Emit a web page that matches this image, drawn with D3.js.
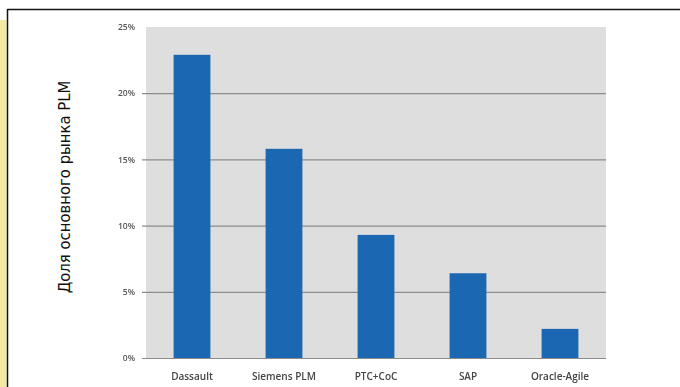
<!DOCTYPE html>
<html><head><meta charset="utf-8">
<script src="https://cdn.jsdelivr.net/npm/d3@7"></script>
<style>html,body{margin:0;padding:0;background:#fff;overflow:hidden}</style>
</head><body>
<svg id="c" width="680" height="387"></svg>
<script>
const categories = ["Dassault", "Siemens PLM", "PTC+CoC", "SAP", "Oracle-Agile"];
const values = [22.9, 15.8, 9.3, 6.4, 2.2];
const yTicks = [0, 5, 10, 15, 20, 25];
const yTitle = "Доля основного рынка PLM";

const svg = d3.select("#c");
const defs = svg.append("defs");
defs.append("filter").attr("id","soft").append("feGaussianBlur").attr("stdDeviation",0.4);

// frame decorations
svg.append("rect").attr("x",0).attr("y",20).attr("width",6.5).attr("height",367).attr("fill","#f2e9a2");
svg.append("line").attr("x1",7.5).attr("x2",680).attr("y1",9.5).attr("y2",9.5).attr("stroke","#111").attr("stroke-width",1.5);
svg.append("line").attr("x1",7.5).attr("x2",7.5).attr("y1",9).attr("y2",387).attr("stroke","#111").attr("stroke-width",1.5);

const L = 146, R = 606, T = 27, B = 358;
const x = d3.scaleBand().domain(categories).range([L, R]).paddingInner(0.6).paddingOuter(0.3);
const y = d3.scaleLinear().domain([0, 25]).range([B, T]);

svg.append("rect").attr("x",L).attr("y",T).attr("width",R-L).attr("height",B-T).attr("fill","#dedede");

const yAxis = d3.axisLeft(y).tickValues(yTicks).tickFormat(d => d + "%").tickSize(-(R-L)).tickPadding(11);
const gy = svg.append("g").attr("transform",`translate(${L},0)`).call(yAxis);
gy.select(".domain").remove();
gy.selectAll(".tick line").attr("stroke", d => d === 25 ? "none" : "#8c8c8c").attr("stroke-width",1.2).attr("x1",-4);
gy.selectAll(".tick text").attr("fill","#555").style("font-family","Open Sans, Liberation Sans, sans-serif").style("font-size","8.5px").style("font-weight","600").attr("filter","url(#soft)");

svg.append("g").selectAll("rect").data(values).join("rect")
  .attr("x",(d,i)=>x(categories[i])).attr("width",x.bandwidth())
  .attr("y",d=>y(d)).attr("height",d=>y(0)-y(d)).attr("fill","#1b67b2");

const xAxis = d3.axisBottom(x).tickSize(0).tickPadding(15);
const gx = svg.append("g").attr("transform",`translate(0,${B})`).call(xAxis);
gx.select(".domain").remove();
gx.selectAll(".tick text").attr("fill","#444").style("font-family","Open Sans, Liberation Sans, sans-serif").style("font-size","10px").style("font-weight","600").attr("filter","url(#soft)");

svg.append("text").attr("transform","translate(70,187) rotate(-90)").attr("text-anchor","middle")
  .style("font-family","Liberation Sans Narrow, DejaVu Sans Condensed, sans-serif").style("font-size","16.5px").attr("fill","#111")
  .text(yTitle);
</script>
</body></html>
